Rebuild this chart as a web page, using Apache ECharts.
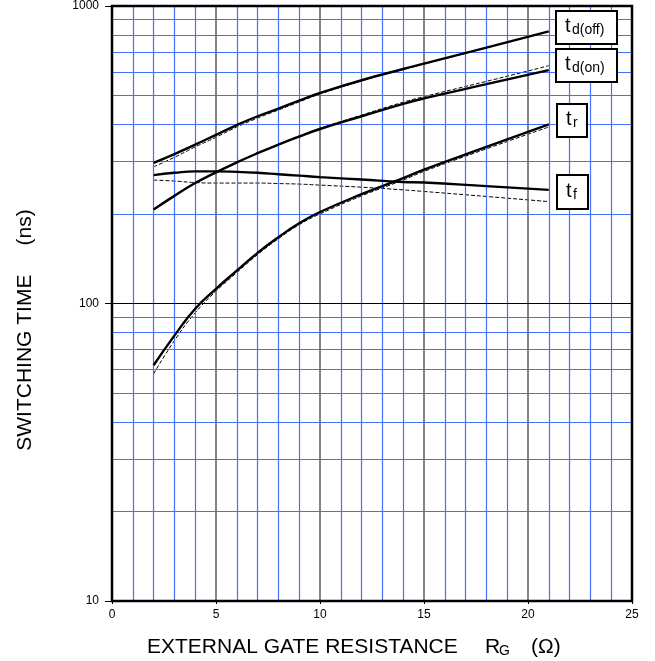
<!DOCTYPE html>
<html>
<head>
<meta charset="utf-8">
<script src="https://cdn.jsdelivr.net/npm/echarts@6/dist/echarts.min.js"></script>
<style>html,body{margin:0;padding:0;background:#fff;}#c{width:655px;height:661px;}</style>
</head>
<body>
<div id="c"></div>
<script>
// ---- data ----
const xVals      = [2, 3, 4, 5, 6, 7, 8, 9, 10, 12, 14, 15, 18, 21];
const tdOffSolid = [297, 318, 342, 369, 398, 426, 452, 481, 510, 563, 614, 640, 725, 822];
const tdOffDash  = [288, 310, 336, 362, 392, 420, 447, 476, 506, 560, 612, 638, 724, 822];
const tdOnSolid  = [207, 230, 254, 276, 298, 320, 342, 364, 386, 426, 469, 489, 546, 609];
const tdOnDash   = [207, 230, 254, 276, 298, 321, 343, 366, 388, 430, 475, 496, 558, 630];
const trSolid    = [62, 78, 96, 112, 129, 148, 167, 186, 203, 233, 264, 282, 336, 400];
const trDash     = [58, 75, 93, 110, 127, 146, 165, 184, 200, 230, 260, 278, 331, 392];
const tfSolid    = [270, 275, 278, 278, 277, 275, 272, 269, 266, 261, 256, 255, 248, 241];
const tfDash     = [260, 258, 255, 254, 254, 254, 253, 252, 250, 246, 241, 238, 229, 220];
const xTicks = [0, 5, 10, 15, 20, 25];
const yTicks = [10, 100, 1000];
const yMinorLines = [20, 30, 40, 50, 60, 70, 80, 90, 200, 300, 400, 500, 600, 700, 800, 900];
const yMajorLines = [100];
const xMinorLines = [1,2,3,4,6,7,8,9,11,12,13,14,16,17,18,19,21,22,23,24];
const xMajorLines = [5, 10, 15, 20];
const seriesLabels = [
  {main: 't', sub: 'd(off)'},
  {main: 't', sub: 'd(on)'},
  {main: 't', sub: 'r'},
  {main: 't', sub: 'f'}
];

const pairs = (ys) => xVals.map((x, i) => [x, ys[i]]);
const BLUE = '#4470ff';
const FONT = '"Liberation Sans", Arial, sans-serif';

const gridLines = []
  .concat(xMinorLines.map(v => ({xAxis: v, lineStyle: {color: BLUE, width: 1.2, type: 'solid'}})))
  .concat(xMajorLines.map(v => ({xAxis: v, lineStyle: {color: '#666', width: 1.6, type: 'solid'}})))
  .concat(yMinorLines.map(v => ({yAxis: v, lineStyle: {color: BLUE, width: 1.2, type: 'solid'}})))
  .concat(yMajorLines.map(v => ({yAxis: v, lineStyle: {color: '#000', width: 1, type: 'solid'}})));

function curve(ys, dashed) {
  return {
    type: 'line', data: pairs(ys), smooth: 0.5, showSymbol: false, symbol: 'none',
    z: dashed ? 4 : 5, silent: true,
    lineStyle: dashed ? {color: '#000', width: 1, type: [4, 2]} : {color: '#000', width: 2.4}
  };
}

// label boxes
const boxes = [
  {x: 556, y: 11, w: 61, h: 33},
  {x: 556, y: 49, w: 61, h: 33},
  {x: 557, y: 104, w: 30, h: 33},
  {x: 557, y: 175, w: 31, h: 34}
];
const graphics = [];
boxes.forEach((b, i) => {
  graphics.push({type: 'rect', shape: {x: b.x, y: b.y, width: b.w, height: b.h},
    style: {fill: '#fff', stroke: '#000', lineWidth: 2}, z: 10});
  graphics.push({type: 'text', x: b.x + 9, y: b.y + b.h / 2 - 1, z: 11,
    style: {text: seriesLabels[i].main, font: '20px ' + FONT, fill: '#000', verticalAlign: 'middle', align: 'left'}});
  graphics.push({type: 'text', x: b.x + 16, y: b.y + b.h / 2 + 3, z: 11,
    style: {text: seriesLabels[i].sub, font: '14px ' + FONT, fill: '#000', verticalAlign: 'middle', align: 'left'}});
});
// axis titles
graphics.push({type: 'text', x: 147, y: 647, z: 11,
  style: {text: 'EXTERNAL GATE RESISTANCE', font: '21px ' + FONT, fill: '#000', verticalAlign: 'middle'}});
graphics.push({type: 'text', x: 485, y: 647, z: 11,
  style: {text: 'R', font: '21px ' + FONT, fill: '#000', verticalAlign: 'middle'}});
graphics.push({type: 'text', x: 499, y: 651, z: 11,
  style: {text: 'G', font: '14px ' + FONT, fill: '#000', verticalAlign: 'middle'}});
graphics.push({type: 'text', x: 531, y: 647, z: 11,
  style: {text: '(Ω)', font: '21px ' + FONT, fill: '#000', verticalAlign: 'middle'}});
graphics.push({type: 'text', x: 25, y: 330, rotation: Math.PI / 2, z: 11,
  style: {text: 'SWITCHING TIME     (ns)', font: '21px ' + FONT, fill: '#000', verticalAlign: 'middle', align: 'center'}});

const chart = echarts.init(document.getElementById('c'), null, {renderer: 'canvas'});
chart.setOption({
  animation: false,
  backgroundColor: '#fff',
  grid: {left: 112, right: 23, top: 6, bottom: 60, show: true, borderColor: '#000', borderWidth: 2.5, backgroundColor: 'transparent', z: 6},
  xAxis: {
    type: 'value', min: 0, max: 25, interval: 5,
    axisLine: {show: false},
    axisTick: {show: true, length: 3, lineStyle: {color: '#000', width: 1}},
    splitLine: {show: false},
    axisLabel: {color: '#000', fontSize: 12, fontFamily: FONT, margin: 8,
      formatter: v => xTicks.indexOf(v) >= 0 ? String(v) : ''}
  },
  yAxis: {
    type: 'log', logBase: 10, min: 10, max: 1000,
    axisLine: {show: false},
    axisTick: {show: true, length: 7, lineStyle: {color: '#000', width: 1}},
    splitLine: {show: false}, minorTick: {show: false}, minorSplitLine: {show: false},
    axisLabel: {color: '#000', fontSize: 12, fontFamily: FONT, margin: 13,
      formatter: v => { const r = Math.round(v); return yTicks.indexOf(r) >= 0 ? String(r) : ''; }}
  },
  graphic: graphics,
  series: [
    {type: 'line', data: [], z: 1, silent: true,
      markLine: {silent: true, symbol: ['none', 'none'], label: {show: false}, animation: false, data: gridLines}},
    curve(tdOffDash, true), curve(tdOffSolid, false),
    curve(tdOnDash, true), curve(tdOnSolid, false),
    curve(trDash, true), curve(trSolid, false),
    curve(tfDash, true), curve(tfSolid, false)
  ]
});
</script>
</body>
</html>
